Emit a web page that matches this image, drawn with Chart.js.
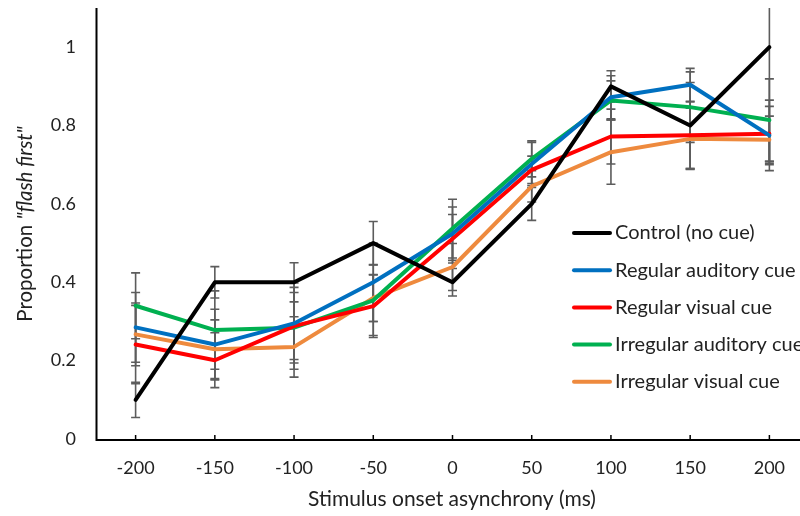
<!DOCTYPE html>
<html>
<head>
<meta charset="utf-8">
<script src="https://cdn.jsdelivr.net/npm/chart.js@4/dist/chart.umd.min.js"></script>
<style>
html,body{margin:0;padding:0;background:#fff;overflow:hidden;width:800px;height:516px;}
#wrap{position:absolute;left:0;top:0;width:810px;height:516px;}
</style>
</head>
<body>
<div id="wrap"><canvas id="c"></canvas></div>
<script>
// ---- data ----
const categories = ['-200','-150','-100','-50','0','50','100','150','200'];
const seriesNames = ['Control (no cue)','Regular auditory cue','Regular visual cue','Irregular auditory cue','Irregular visual cue'];
const control   = [0.10, 0.40, 0.40, 0.50, 0.40, 0.60, 0.90, 0.80, 1.00];
const regAud    = [0.285,0.241,0.295,0.40, 0.524,0.702,0.872,0.904,0.775];
const regVis    = [0.241,0.201,0.288,0.339,0.511,0.687,0.772,0.775,0.779];
const irrAud    = [0.34, 0.278,0.284,0.354,0.537,0.715,0.864,0.847,0.814];
const irrVis    = [0.267,0.229,0.235,0.36, 0.439,0.645,0.732,0.766,0.764];
const controlErr = [0.045,0.04,0.05,0.055,0.035,0.042,0.04,0.11,0.30];
const regAudErr  = [0.089,0.09,0.092,0.10,0.068,0.055,0.055,0.042,0.09];
const regVisErr  = [0.10,0.07,0.11,0.08,0.062,0.035,0.07,0.085,0.07];
const irrAudErr  = [0.084,0.10,0.09,0.09,0.075,0.046,0.05,0.09,0.105];
const irrVisErr  = [0.08,0.075,0.077,0.06,0.06,0.04,0.082,0.078,0.06];
const yTicks = [0, 0.2, 0.4, 0.6, 0.8, 1];
const xTitle = 'Stimulus onset asynchrony (ms)';
const yTitleA = 'Proportion ';
const yTitleB = '"flash first"';

const colors = ['#000000','#0070c0','#ff0000','#00b050','#ee8a3e'];
const FONT = 'Lato';
const TXT = '#222222';

const values = [control, regAud, regVis, irrAud, irrVis];
const errs = [controlErr, regAudErr, regVisErr, irrAudErr, irrVisErr];

const datasets = values.map((v, i) => ({
  label: seriesNames[i],
  data: v,
  err: errs[i],
  borderColor: colors[i],
  backgroundColor: colors[i],
  borderWidth: 4,
  pointRadius: 0,
  tension: 0,
  borderJoinStyle: 'round',
  borderCapStyle: 'round',
  fill: false
}));

const errorBars = {
  id: 'errorBars',
  beforeDatasetsDraw(chart) {
    const {ctx, chartArea: a, scales: {x, y}} = chart;
    ctx.save();
    ctx.beginPath();
    ctx.rect(a.left, a.top, a.right - a.left, a.bottom - a.top);
    ctx.clip();
    ctx.strokeStyle = '#5c5c5c';
    ctx.lineWidth = 1.6;
    chart.data.datasets.forEach(ds => {
      ds.err.forEach((e, i) => {
        const px = x.getPixelForValue(i);
        const v = ds.data[i];
        const yt = y.getPixelForValue(v + e), yb = y.getPixelForValue(v - e);
        ctx.beginPath();
        ctx.moveTo(px, yt); ctx.lineTo(px, yb);
        ctx.moveTo(px - 4.5, yt); ctx.lineTo(px + 4.5, yt);
        ctx.moveTo(px - 4.5, yb); ctx.lineTo(px + 4.5, yb);
        ctx.stroke();
      });
    });
    ctx.restore();
    // axes
    ctx.save();
    ctx.strokeStyle = '#000';
    ctx.lineWidth = 2;
    ctx.beginPath();
    ctx.moveTo(a.left + 0.5, a.top);
    ctx.lineTo(a.left + 0.5, a.bottom + 1);
    ctx.lineTo(a.right, a.bottom + 1);
    ctx.stroke();
    ctx.lineWidth = 1.5;
    ctx.beginPath();
    categories.forEach((c, i) => {
      const px = x.getPixelForValue(i);
      ctx.moveTo(px, a.bottom + 1);
      ctx.lineTo(px, a.bottom - 4);
    });
    ctx.stroke();
    ctx.restore();
  },
  afterDraw(chart) {
    const {ctx} = chart;
    ctx.save();
    ctx.fillStyle = TXT;
    ctx.textBaseline = 'middle';
    // x title
    ctx.font = `21px ${FONT}`;
    ctx.textAlign = 'center';
    ctx.fillText(xTitle, 452, 499);
    // y title
    ctx.translate(25, 224);
    ctx.rotate(-Math.PI / 2);
    ctx.textAlign = 'left';
    const f1 = `20.5px ${FONT}`, f2 = `italic 20.5px ${FONT}`;
    ctx.font = f1;
    const w1 = ctx.measureText(yTitleA).width;
    ctx.font = f2;
    const w2 = ctx.measureText(yTitleB).width;
    const s = -(w1 + w2) / 2;
    ctx.font = f1;
    ctx.fillText(yTitleA, s, 0);
    ctx.font = f2;
    ctx.fillText(yTitleB, s + w1, 0);
    ctx.restore();
    // legend
    ctx.save();
    ctx.font = `20px ${FONT}`;
    ctx.textBaseline = 'middle';
    ctx.textAlign = 'left';
    chart.data.datasets.forEach((ds, i) => {
      const yy = 233 + i * 37.2;
      ctx.strokeStyle = ds.borderColor;
      ctx.lineWidth = 4;
      ctx.lineCap = 'round';
      ctx.beginPath();
      ctx.moveTo(574, yy); ctx.lineTo(610, yy);
      ctx.stroke();
      ctx.fillStyle = TXT;
      ctx.fillText(ds.label, 615, yy);
    });
    ctx.restore();
  }
};

new Chart(document.getElementById('c'), {
  type: 'line',
  data: { labels: categories, datasets },
  plugins: [errorBars],
  options: {
    responsive: true,
    maintainAspectRatio: false,
    animation: false,
    layout: { padding: { top: 8, right: 1, left: 0, bottom: 0 } },
    plugins: { legend: { display: false }, tooltip: { enabled: false } },
    scales: {
      x: {
        type: 'category',
        offset: true,
        grid: { display: false, drawTicks: false },
        border: { display: false },
        ticks: { font: { family: FONT, size: 18 }, color: TXT, padding: 18, maxRotation: 0, autoSkip: false },
        afterFit(s) { s.height = 77; s.paddingLeft = 0; s.paddingRight = 0; }
      },
      y: {
        min: 0, max: 1.1,
        grid: { display: false, drawTicks: false },
        border: { display: false },
        afterBuildTicks(s) { s.ticks = yTicks.map(v => ({ value: v })); },
        ticks: {
          font: { family: FONT, size: 18 }, color: TXT, padding: 20,
          callback: v => String(Math.round(v * 10) / 10)
        },
        afterFit(s) { s.width = 96; s.paddingTop = 0; s.paddingBottom = 0; }
      }
    }
  }
});
</script>
</body>
</html>
